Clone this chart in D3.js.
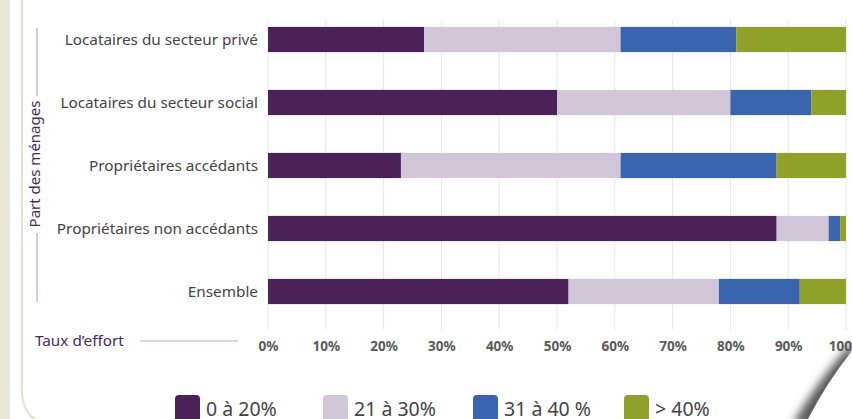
<!DOCTYPE html>
<html>
<head>
<meta charset="utf-8">
<script src="https://cdn.jsdelivr.net/npm/d3@7"></script>
<style>
  body { margin: 0; background: #fff; }
  svg { display: block; }
  text { font-family: "Noto Sans", "Open Sans", sans-serif; }
</style>
</head>
<body>
<div id="chart"></div>
<script>
var categories = ["Locataires du secteur privé", "Locataires du secteur social", "Propriétaires accédants", "Propriétaires non accédants", "Ensemble"];
var seriesNames = ["0 à 20%", "21 à 30%", "31 à 40 %", "> 40%"];
var s0to20 = [27, 50, 23, 88, 52];
var s21to30 = [34, 30, 38, 9, 26];
var s31to40 = [20, 14, 27, 2, 14];
var sOver40 = [19, 6, 12, 1, 8];
var tickValues = [0, 10, 20, 30, 40, 50, 60, 70, 80, 90, 100];
var colors = ["#4a2257", "#d0c6d8", "#3a64ae", "#8fa128"];

var W = 852, H = 419;
var svg = d3.select("#chart").append("svg").attr("width", W).attr("height", H);

/***************************
 * page decoration
 ***************************/
svg.append("rect").attr("x", 0).attr("y", 0).attr("width", 10).attr("height", H).attr("fill", "#e9e7d8");
svg.append("path")
    .attr("d", "M22,-5 L22,390 Q22,424 56,424 L900,424")
    .attr("fill", "none").attr("stroke", "#e4e2d2").attr("stroke-width", 2);

/***************************
 * data table
 ***************************/
var rows = categories.map(function(c, i) {
    return { cat: c, a: s0to20[i], b: s21to30[i], c: s31to40[i], d: sOver40[i] };
});
var stack = d3.stack().keys(["a", "b", "c", "d"])(rows);

var x = d3.scaleLinear().domain([0, 100]).range([268, 846]);
var y = d3.scaleBand().domain(categories).range([8, 323]).paddingInner(0.6).paddingOuter(0.3);

// grid
svg.append("g").selectAll("line").data(tickValues).join("line")
    .attr("x1", function(d) { return x(d); }).attr("x2", function(d) { return x(d); })
    .attr("y1", 20).attr("y2", 330)
    .attr("stroke", "#e6e6e8").attr("stroke-width", 1);

// bars
svg.append("g").selectAll("g").data(stack).join("g")
    .attr("fill", function(d, i) { return colors[i]; })
    .selectAll("rect").data(function(d) { return d; }).join("rect")
    .attr("x", function(d) { return x(d[0]); })
    .attr("width", function(d) { return x(d[1]) - x(d[0]); })
    .attr("y", function(d) { return y(d.data.cat); })
    .attr("height", y.bandwidth());

// category labels
svg.append("g").selectAll("text").data(categories).join("text")
    .attr("x", 258).attr("y", function(d) { return y(d) + y.bandwidth() / 2; })
    .attr("dy", "0.35em").attr("text-anchor", "end")
    .attr("font-size", 15.3).attr("fill", "#444")
    .text(function(d) { return d; });

// x axis
var xAxis = svg.append("g").attr("transform", "translate(0,330)")
    .call(d3.axisBottom(x).tickValues(tickValues).tickSize(0).tickPadding(11)
        .tickFormat(function(d) { return d + "%"; }));
xAxis.select(".domain").remove();
xAxis.selectAll("text").attr("font-family", "\"Noto Sans\", sans-serif")
    .attr("font-size", 13.5).attr("font-weight", "bold").attr("fill", "#5a5a5a");

/***************************
 * axis titles
 ***************************/
svg.append("text").attr("x", 35).attr("y", 346).attr("font-size", 15.3).attr("fill", "#4a2a5a").text("Taux d’effort");
svg.append("line").attr("x1", 140).attr("x2", 238).attr("y1", 341).attr("y2", 341)
    .attr("stroke", "#b9a8c6").attr("stroke-width", 1.2);

svg.append("text").attr("transform", "translate(40,164) rotate(-90)")
    .attr("text-anchor", "middle").attr("font-size", 15).attr("fill", "#4a2a5a").text("Part des ménages");
svg.append("line").attr("x1", 37).attr("x2", 37).attr("y1", 28).attr("y2", 96)
    .attr("stroke", "#b9a8c6").attr("stroke-width", 1.2);
svg.append("line").attr("x1", 37).attr("x2", 37).attr("y1", 233).attr("y2", 302)
    .attr("stroke", "#b9a8c6").attr("stroke-width", 1.2);

/***************************
 * legend
 ***************************/
var legendX = [175, 323, 473, 624];
var legend = svg.append("g").selectAll("g").data(seriesNames).join("g")
    .attr("transform", function(d, i) { return "translate(" + legendX[i] + ",395)"; });
legend.append("rect").attr("width", 25).attr("height", 28).attr("rx", 4)
    .attr("fill", function(d, i) { return colors[i]; });
legend.append("text").attr("x", 31).attr("y", 21).attr("font-size", 19.5).attr("fill", "#444")
    .text(function(d) { return d; });

/***************************
 * page curl
 ***************************/
var blur = svg.append("defs").append("filter").attr("id", "blur")
    .attr("x", "-50%").attr("y", "-50%").attr("width", "200%").attr("height", "200%");
blur.append("feGaussianBlur").attr("stdDeviation", 4);
svg.append("path").attr("d", "M792,425 Q818,380 852,342 L860,425 Z")
    .attr("fill", "#5a5a5a").attr("filter", "url(#blur)");
svg.append("path").attr("d", "M805,425 Q826,382 856,346 L860,425 Z").attr("fill", "#fff");
</script>
</body>
</html>
